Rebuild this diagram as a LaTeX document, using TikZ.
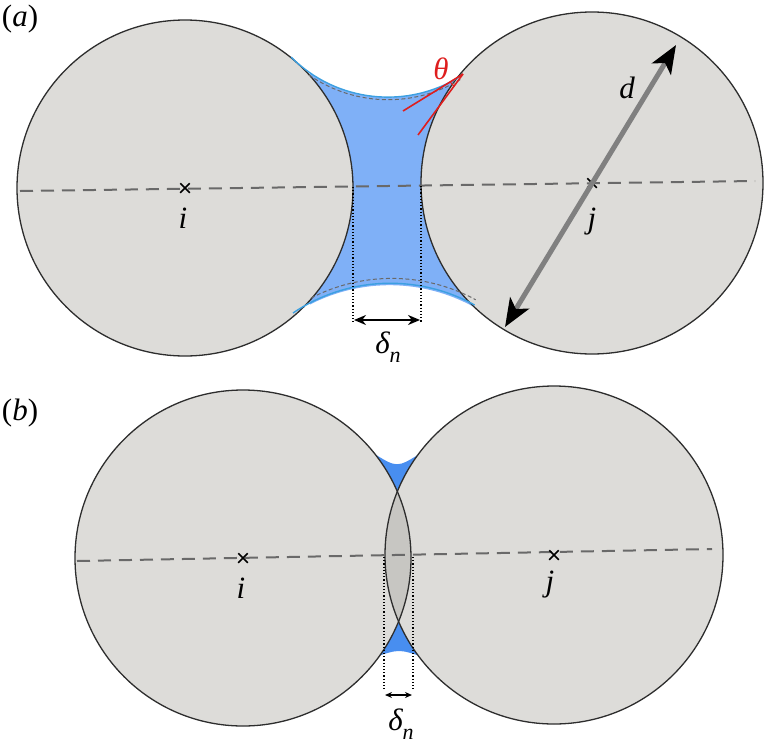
\documentclass[tikz,border=0pt]{standalone}
\usepackage{fontspec}
\setmainfont{Liberation Serif}
\usetikzlibrary{arrows.meta,shapes.misc,calc}
\definecolor{ballgray}{RGB}{221,220,217}
\definecolor{lensgray}{RGB}{199,198,194}
\definecolor{outline}{RGB}{45,45,45}
\definecolor{bridgeA}{RGB}{127,176,247}
\definecolor{bridgeB}{RGB}{72,142,240}
\definecolor{menisc}{RGB}{60,160,225}
\definecolor{axisgray}{RGB}{105,105,105}
\definecolor{arrgray}{RGB}{128,128,128}
\definecolor{angred}{RGB}{222,30,30}
\newcommand{\subn}{\raisebox{-0.28em}{\fontsize{22}{24}\selectfont\itshape n}}
\tikzset{
  ball/.style={fill=ballgray,draw=outline,line width=1.3pt},
  ballline/.style={draw=outline,line width=1.3pt},
  axis/.style={draw=axisgray,line width=2pt,dash pattern=on 13pt off 8pt},
  meniscdash/.style={draw=axisgray,line width=1pt,dash pattern=on 4pt off 2.5pt},
  menisclin/.style={draw=menisc,line width=1.4pt},
  guide/.style={draw=black,line width=1.2pt,dotted},
  crossmark/.style={cross out,draw=black,line width=1.5pt,minimum size=8pt,inner sep=0pt},
  lbl/.style={font=\fontsize{31}{36}\selectfont\itshape,inner sep=0pt},
  gap/.style={line width=2pt,{Stealth[length=12pt,width=10pt]}-{Stealth[length=12pt,width=10pt]}},
  gapb/.style={line width=1.4pt,{Stealth[length=7pt,width=6pt]}-{Stealth[length=7pt,width=6pt]}},
  diam/.style={draw=arrgray,line width=5pt,{Stealth[length=28pt,width=22pt,inset=7pt,color=black]}-{Stealth[length=28pt,width=22pt,inset=7pt,color=black]}},
  redline/.style={draw=angred,line width=1.6pt},
}
\begin{document}
\begin{tikzpicture}[x=1pt,y=-1pt]
\useasboundingbox (0,0) rectangle (768,755);
%% ---------------- panel (a) ----------------
\coordinate (ci) at (185,188);
\coordinate (cj) at (592,183);
% liquid bridge fill
\fill[bridgeA] (310,73) arc[start angle=124.7,end angle=57.3,radius=137]
  -- (474,307) arc[start angle=-61,end angle=-117.3,radius=174] -- cycle;
% particles
\draw[ball] (ci) circle (168);
\draw[ball] (cj) circle (171);
% meniscus outlines
\draw[menisclin] (291,57) arc[start angle=135,end angle=57.3,radius=137];
\draw[meniscdash] (309,75) arc[start angle=124.7,end angle=58,radius=139];
\draw[menisclin] (293,313) arc[start angle=-124,end angle=-61,radius=174];
\draw[meniscdash] (311,298) arc[start angle=-117.3,end angle=-61.5,radius=176];
% centre line
\coordinate (axA1) at (20,191);
\coordinate (axA2) at (755,181);
\draw[axis] (axA1) -- (axA2);
\node[crossmark] (xi) at (ci) {};
\node[crossmark] (xj) at (cj) {};
\node[lbl] (li) at (183,218) {i};
\node[lbl] (lj) at (592,222) {j};
% diameter arrow
\coordinate (dlo) at (505,327);
\coordinate (dhi) at (676,45);
\draw[diam] (dlo) -- (dhi);
\node[lbl] (ld) at (627,88) {d};
% contact angle
\coordinate (cp) at (463,74);
\coordinate (r1) at (403,111);
\coordinate (r2) at (418,135);
\draw[redline] (cp) -- (r1);
\draw[redline] (cp) -- (r2);
\draw[draw=angred,line width=1pt] ($(cp)+(148.3:15)$) arc[start angle=148.3,end angle=126.4,radius=15];
\node[lbl,text=angred] (lt) at (441,69) {θ};
% gap delta_n
\coordinate (ga1) at (353,187);
\coordinate (ga2) at (353,322);
\coordinate (gb1) at (421,186);
\coordinate (gb2) at (421,322);
\draw[guide] (ga1) -- (ga2);
\draw[guide] (gb1) -- (gb2);
\coordinate (ha) at (354,320);
\coordinate (hb) at (420,320);
\draw[gap] (ha) -- (hb);
\node[lbl] (ldA) at (388,347) {δ\subn};
\node[lbl,font=\fontsize{31}{36}\selectfont] (la) at (20,19) {(\textit{a})};
%% ---------------- panel (b) ----------------
\coordinate (bi) at (243,558);
\coordinate (bj) at (554,555);
% bridge fills
\fill[bridgeB] (373,453) .. controls (397,468) .. (421,453) -- (398,500) -- cycle;
\fill[bridgeB] (375,657) .. controls (399,649) .. (423,657) -- (398,612) -- cycle;
% particles
\fill[ballgray] (bi) circle (168);
\fill[ballgray] (bj) circle (169);
\begin{scope}
  \clip (bi) circle (168);
  \fill[lensgray] (bj) circle (169);
\end{scope}
\draw[ballline] (bi) circle (168);
\draw[ballline] (bj) circle (169);
% centre line
\coordinate (axB1) at (77,561);
\coordinate (axB2) at (712,549);
\draw[axis] (axB1) -- (axB2);
\node[crossmark] (xbi) at (bi) {};
\node[crossmark] (xbj) at (bj) {};
\node[lbl] (lbi) at (241,588) {i};
\node[lbl] (lbj) at (550,585) {j};
% gap delta_n
\coordinate (gc1) at (384,557);
\coordinate (gc2) at (384,690);
\coordinate (gd1) at (413,557);
\coordinate (gd2) at (413,690);
\draw[guide] (gc1) -- (gc2);
\draw[guide] (gd1) -- (gd2);
\coordinate (hc) at (385,695);
\coordinate (hd) at (412,695);
\draw[gapb] (hc) -- (hd);
\node[lbl] (ldB) at (401,724) {δ\subn};
\node[lbl,font=\fontsize{31}{36}\selectfont] (lb) at (20,413) {(\textit{b})};
\end{tikzpicture}
\end{document}
